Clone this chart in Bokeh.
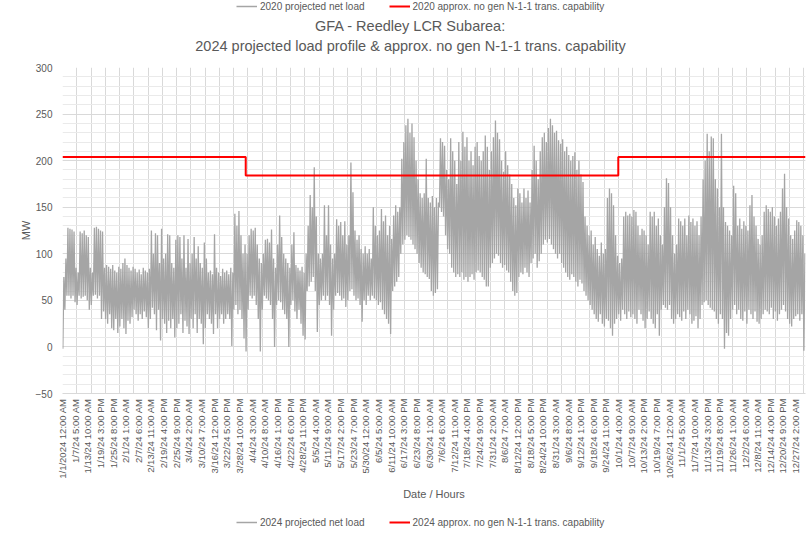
import math
from bokeh.plotting import figure
from bokeh.layouts import column
from bokeh.models import (FixedTicker, SingleIntervalTicker, Legend, LegendItem,
                          Label, Range1d)
from bokeh.embed import file_html
from bokeh.resources import INLINE

# ---------------- data ----------------
TITLE_1 = "GFA - Reedley LCR Subarea:"
TITLE_2 = "2024 projected load profile & approx. no gen N-1-1 trans. capability"
X_TITLE = "Date / Hours"
Y_TITLE = "MW"
SERIES_LOAD = "2024 projected net load"
SERIES_CAP = "2024 approx. no gen N-1-1 trans. capability"
PREV_LOAD = "2020 projected net load"
PREV_CAP = "2020 approx. no gen N-1-1 trans. capability"

N_HOURS = 8760
LABEL_STEP_HOURS = 149
GRID_STEP_HOURS = 168

X_LABELS = [
    "1/1/2024 12:00 AM", "1/7/24 5:00 AM", "1/13/24 10:00 AM", "1/19/24 3:00 PM",
    "1/25/24 8:00 PM", "2/1/24 1:00 AM", "2/7/24 6:00 AM", "2/13/24 11:00 AM",
    "2/19/24 4:00 PM", "2/25/24 9:00 PM", "3/4/24 2:00 AM", "3/10/24 7:00 AM",
    "3/16/24 12:00 PM", "3/22/24 5:00 PM", "3/28/24 10:00 PM", "4/4/24 3:00 AM",
    "4/10/24 8:00 AM", "4/16/24 1:00 PM", "4/22/24 6:00 PM", "4/28/24 11:00 PM",
    "5/5/24 4:00 AM", "5/11/24 9:00 AM", "5/17/24 2:00 PM", "5/23/24 7:00 PM",
    "5/30/24 12:00 AM", "6/5/24 5:00 AM", "6/11/24 10:00 AM", "6/17/24 3:00 PM",
    "6/23/24 8:00 PM", "6/30/24 1:00 AM", "7/6/24 6:00 AM", "7/12/24 11:00 AM",
    "7/18/24 4:00 PM", "7/24/24 9:00 PM", "7/31/24 2:00 AM", "8/6/24 7:00 AM",
    "8/12/24 12:00 PM", "8/18/24 5:00 PM", "8/24/24 10:00 PM", "8/31/24 3:00 AM",
    "9/6/24 8:00 AM", "9/12/24 1:00 PM", "9/18/24 6:00 PM", "9/24/24 11:00 PM",
    "10/1/24 4:00 AM", "10/7/24 9:00 AM", "10/13/24 2:00 PM", "10/19/24 7:00 PM",
    "10/26/24 12:00 AM", "11/1/24 5:00 AM", "11/7/24 10:00 AM", "11/13/24 3:00 PM",
    "11/19/24 8:00 PM", "11/26/24 1:00 AM", "12/2/24 6:00 AM", "12/8/24 11:00 AM",
    "12/14/24 4:00 PM", "12/20/24 9:00 PM", "12/27/24 2:00 AM",
]

# daily peak (MW) of the projected net load
LOAD_HI = [
    75, 95, 128, 127, 126, 124, 85, 80, 124, 122,
    125, 120, 118, 85, 80, 128, 129, 127, 125, 124,
    85, 88, 86, 84, 88, 82, 80, 86, 84, 90,
    95, 88, 85, 82, 86, 84, 80, 83, 78, 85,
    82, 80, 84, 125, 100, 122, 120, 90, 127, 95,
    100, 121, 120, 90, 85, 115, 120, 118, 95, 120,
    85, 116, 90, 100, 118, 95, 108, 90, 85, 112,
    95, 80, 82, 78, 121, 85, 80, 76, 84, 80,
    82, 78, 85, 80, 143, 130, 146, 120, 100, 110,
    100, 120, 127, 125, 128, 110, 95, 90, 100, 115,
    116, 112, 126, 95, 85, 110, 141, 118, 100, 95,
    90, 85, 110, 123, 88, 85, 82, 86, 80, 100,
    130, 163, 150, 193, 140, 100, 95, 100, 152, 120,
    152, 110, 95, 100, 137, 130, 134, 120, 135, 110,
    120, 198, 166, 125, 115, 120, 105, 100, 108, 100,
    105, 95, 150, 130, 120, 125, 148, 135, 141, 120,
    130, 116, 141, 152, 145, 150, 202, 220, 238, 245,
    230, 240, 225, 200, 180, 165, 160, 165, 202, 160,
    155, 162, 150, 160, 155, 224, 220, 216, 190, 180,
    224, 210, 200, 175, 220, 200, 231, 215, 225, 200,
    210, 195, 215, 220, 205, 200, 210, 227, 215, 190,
    210, 225, 243, 230, 223, 200, 188, 210, 195, 185,
    175, 160, 152, 170, 165, 155, 170, 160, 168, 155,
    190, 216, 200, 180, 210, 225, 230, 220, 235, 245,
    238, 230, 232, 222, 218, 223, 210, 215, 206, 200,
    205, 209, 190, 200, 185, 177, 140, 130, 120, 125,
    110, 118, 105, 98, 112, 100, 105, 160, 170, 165,
    152, 120, 98, 90, 95, 140, 145, 141, 143, 140,
    147, 145, 130, 120, 127, 125, 120, 110, 145, 140,
    145, 130, 138, 120, 110, 150, 181, 176, 150, 120,
    100, 110, 138, 135, 130, 138, 120, 141, 134, 138,
    130, 135, 120, 140, 180, 200, 229, 210, 226, 224,
    180, 170, 150, 229, 150, 134, 130, 125, 120, 173,
    165, 130, 138, 127, 135, 130, 125, 152, 163, 140,
    130, 116, 110, 120, 145, 152, 148, 145, 150, 140,
    130, 138, 145, 170, 186, 150, 138, 120, 116, 125,
    136, 134, 130, 120, 100,
]

# daily minimum (MW) of the projected net load
LOAD_LO = [
    -2, 40, 55, 55, 52, 55, 48, 45, 55, 52,
    54, 55, 50, 40, 45, 55, 56, 52, 55, 30,
    38, 30, 25, 35, 20, 18, 30, 15, 22, 30,
    20, 14, 28, 25, 32, 40, 35, 28, 35, 30,
    38, 32, 20, 30, 42, 35, 18, 40, 7, 30,
    25, 15, 28, 20, 30, 10, 20, 25, 35, 15,
    28, 22, 14, 30, 20, 35, 15, 30, 25, 3,
    20, 35, 30, 25, 14, 35, 20, 30, 35, 25,
    30, 35, 30, 1, 40, 45, 35, 40, 30, 9,
    -5, 40, 55, 52, 55, 45, 30, -5, 40, 55,
    52, 50, 45, 30, 0, 45, 50, 48, 40, 35,
    30, 0, 45, 50, 38, 30, 40, 25, 12, 8,
    60, 65, 70, 75, 60, 16, 45, 50, 55, 50,
    55, 45, 12, 40, 55, 58, 55, 50, 52, 43,
    50, 60, 62, 55, 50, 52, 45, 27, 50, 45,
    55, 50, 55, 52, 50, 45, 48, 40, 35, 30,
    25, 14, 60, 65, 70, 75, 100, 110, 115, 120,
    118, 115, 110, 105, 100, 90, 85, 80, 78, 75,
    73, 60, 55, 58, 62, 150, 145, 140, 120, 105,
    100, 85, 80, 75, 78, 75, 80, 72, 75, 70,
    75, 78, 72, 80, 82, 80, 75, 72, 65, 65,
    85, 90, 95, 100, 98, 90, 85, 88, 82, 80,
    70, 60, 55, 58, 75, 80, 78, 85, 80, 75,
    90, 95, 100, 85, 92, 100, 110, 115, 112, 116,
    110, 105, 100, 95, 100, 90, 85, 80, 75, 72,
    78, 75, 70, 65, 72, 68, 60, 55, 50, 45,
    40, 35, 30, 27, 35, 25, 22, 30, 28, 20,
    12, 25, 30, 35, 28, 40, 35, 30, 38, 32,
    35, 30, 25, 40, 35, 28, 20, 30, 38, 30,
    25, 20, 35, 12, 40, 45, 42, 40, 45, 30,
    25, 30, 35, 32, 28, 38, 30, 40, 35, 25,
    28, 33, 20, 30, 45, 48, 50, 45, 42, 40,
    38, 30, 25, 35, 30, -2, 15, 12, 30, 40,
    45, 35, 40, 30, 28, 38, 25, 40, 35, 30,
    38, 27, 25, 30, 35, 40, 38, 35, 42, 30,
    38, 28, 35, 40, 45, 38, 30, 25, 22, 30,
    33, 35, 28, 35, -4,
]

# transmission capability steps: start hour of each period and its MW level
CAP_START_HOUR = [0, 2160, 6552]
CAP_MW = [204, 184, 204]

# ---------------- build series ----------------
HOUR_OF_LOW = 4
HOUR_OF_HIGH = 16
load_x, load_y = [], []
for d, (lo, hi) in enumerate(zip(LOAD_LO, LOAD_HI)):
    load_x += [d * 24 + HOUR_OF_LOW, d * 24 + HOUR_OF_HIGH]
    load_y += [lo, hi]

cap_x = CAP_START_HOUR + [N_HOURS - 1]
cap_y = CAP_MW + [CAP_MW[-1]]

# ---------------- styling ----------------
FONT = "Liberation Sans"
TXT = "#595959"
GRID = "#d9d9d9"
MINOR = "#eaeaea"
GREY = "#a5a5a5"
RED = "#ff0000"
W = 808
HEAD_H, MAIN_H, FOOT_H = 59, 446, 32
# the column aligns all frames with the main chart's frame (left border 62 px)
FRAME_LEFT = 62
CENTER_X = 410 - FRAME_LEFT
LEGEND_X = 236 - FRAME_LEFT


def blank_fig(h):
    f = figure(width=W, height=h, output_backend="svg", toolbar_location=None,
               title=None, x_range=Range1d(0, 1), y_range=Range1d(0, 1),
               x_axis_type=None, y_axis_type=None, min_border=0)
    f.grid.visible = False
    f.outline_line_color = None
    f.background_fill_color = "white"
    f.border_fill_color = "white"
    return f


def make_legend(fig, labels, loc):
    # legend-only renderers (a single NaN point, nothing is drawn in the frame)
    g = fig.line([math.nan], [math.nan], line_color=GREY, line_width=1.5)
    r = fig.line([math.nan], [math.nan], line_color=RED, line_width=2)
    fig.add_layout(Legend(items=[LegendItem(label=labels[0], renderers=[g]),
                                 LegendItem(label=labels[1], renderers=[r])],
                          orientation="horizontal", location=loc,
                          border_line_color=None, background_fill_alpha=0,
                          label_text_font=FONT, label_text_font_size="10px",
                          label_text_color=TXT, glyph_width=21, glyph_height=14,
                          label_height=14, label_standoff=3,
                          spacing=24, padding=0, margin=0))


# ---------------- header: titles ----------------
head = blank_fig(HEAD_H)
make_legend(head, (PREV_LOAD, PREV_CAP), (LEGEND_X, HEAD_H - 13))
for txt, yy in ((TITLE_1, HEAD_H - 25), (TITLE_2, HEAD_H - 45)):
    head.add_layout(Label(x=CENTER_X, y=yy, x_units="screen", y_units="screen",
                          text=txt, text_align="center", text_baseline="middle",
                          text_font=FONT, text_font_size="14.5px", text_color=TXT))

# ---------------- main chart ----------------
p = figure(width=W, height=MAIN_H, output_backend="svg", toolbar_location=None,
           title=None, x_range=Range1d(0, N_HOURS - 1), y_range=Range1d(-50, 300),
           min_border_left=FRAME_LEFT, min_border_right=3, min_border_top=8,
           min_border_bottom=112)
p.outline_line_color = None
p.background_fill_color = "white"
p.border_fill_color = "white"

p.line(load_x, load_y, line_color=GREY, line_width=1.3)
p.step(cap_x, cap_y, mode="after", line_color=RED, line_width=2)

yt = SingleIntervalTicker(interval=50, num_minor_ticks=5)
p.yaxis.ticker = yt
p.ygrid.ticker = yt
p.ygrid.grid_line_color = GRID
p.ygrid.minor_grid_line_color = MINOR
p.yaxis.axis_line_color = None
p.yaxis.major_tick_line_color = None
p.yaxis.minor_tick_line_color = None
p.yaxis.major_tick_out = 0
p.yaxis.minor_tick_out = 0
p.yaxis.major_label_standoff = 10
p.yaxis.major_label_text_font = FONT
p.yaxis.major_label_text_font_size = "10px"
p.yaxis.major_label_text_color = TXT
p.yaxis.axis_label = Y_TITLE
p.yaxis.axis_label_text_font = FONT
p.yaxis.axis_label_text_font_size = "11px"
p.yaxis.axis_label_text_font_style = "normal"
p.yaxis.axis_label_text_color = TXT
p.yaxis.axis_label_standoff = 1

label_ticks = [i * LABEL_STEP_HOURS for i in range(len(X_LABELS))]
p.xaxis.ticker = FixedTicker(ticks=label_ticks)
p.xaxis.major_label_overrides = {t: s for t, s in zip(label_ticks, X_LABELS)}
p.xaxis.major_label_orientation = math.pi / 2
p.xaxis.major_label_text_font = FONT
p.xaxis.major_label_text_font_size = "9.5px"
p.xaxis.major_label_text_color = TXT
p.xaxis.major_label_standoff = 5
p.xaxis.major_tick_line_color = None
p.xaxis.minor_tick_line_color = None
p.xaxis.major_tick_out = 0
p.xaxis.minor_tick_out = 0
p.xaxis.axis_line_color = GRID
p.xaxis.axis_label = X_TITLE
p.xaxis.axis_label_text_font = FONT
p.xaxis.axis_label_text_font_size = "11px"
p.xaxis.axis_label_text_font_style = "normal"
p.xaxis.axis_label_text_color = TXT
p.xaxis.axis_label_standoff = 6
p.xgrid.ticker = FixedTicker(ticks=list(range(0, N_HOURS, GRID_STEP_HOURS)))
p.xgrid.grid_line_color = GRID

# ---------------- footer: legend ----------------
foot = blank_fig(FOOT_H)
make_legend(foot, (SERIES_LOAD, SERIES_CAP), (LEGEND_X, 8))

layout = column(head, p, foot, spacing=0)
open("out.html", "w").write(file_html(layout, INLINE))
